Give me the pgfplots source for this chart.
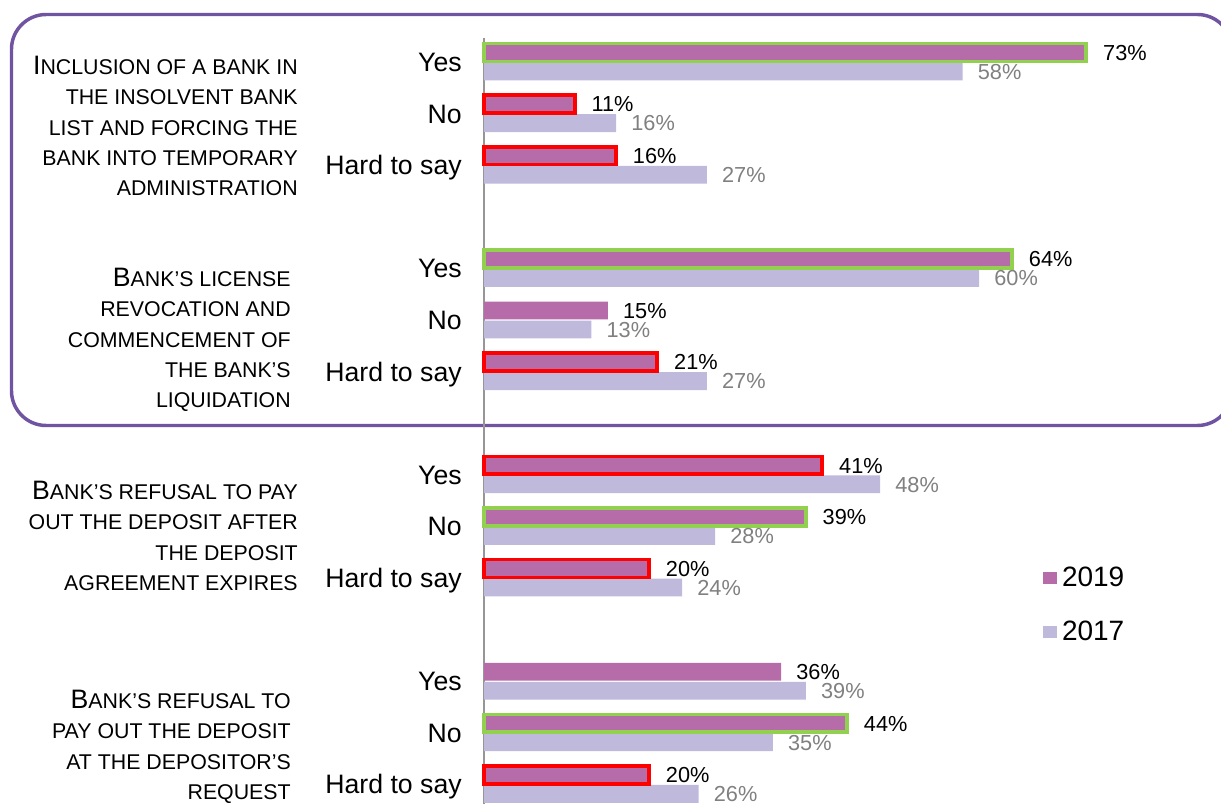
\documentclass[border=0pt]{standalone}
\usepackage{fontspec}
\setmainfont{Liberation Sans}
\usepackage{pgfplots}
\usepackage{pgfplotstable}
\pgfplotsset{compat=1.18}

\definecolor{c19}{RGB}{181,108,168}
\definecolor{c17}{RGB}{191,185,220}
\definecolor{cred}{RGB}{255,0,0}
\definecolor{cgreen}{RGB}{146,208,80}
\definecolor{cframe}{RGB}{112,84,162}
\definecolor{caxis}{RGB}{150,150,150}
\definecolor{clab17}{RGB}{128,128,128}

% 2019 bars with green outline
\pgfplotstableread{
pos val
0 73
4 64
9 39
13 44
}\tgreen
% 2019 bars with red outline
\pgfplotstableread{
pos val
1 11
2 16
6 21
8 41
10 20
14 20
}\tred
% 2019 bars without outline
\pgfplotstableread{
pos val
5 15
12 36
}\tplain
% 2017 bars
\pgfplotstableread{
pos val
0 58
1 16
2 27
4 60
5 13
6 27
8 48
9 28
10 24
12 39
13 35
14 26
}\tseventeen

\newcommand{\bc}[1]{{\fontsize{20}{22.8}\selectfont #1}}

\begin{document}
\begin{tikzpicture}[x=0.75pt,y=0.75pt]
\useasboundingbox (0,0) rectangle (1221,804);
\draw[cframe, line width=2.6pt, rounded corners=26pt] (11.5,789.5) rectangle (1232,378.5);
\begin{axis}[
  at={(363pt,0pt)}, anchor=south west,
  scale only axis, width=552.75pt, height=574.5pt,
  xmin=0, xmax=89.33, ymin=-14.38, ymax=0.465,
  xbar, bar width=13.4pt, bar shift=0pt,
  axis x line=none, axis y line*=left,
  y axis line style={draw=caxis, line width=1.2pt, -},
  xtick=\empty,
  ytick={0,-1,-2,-4,-5,-6,-8,-9,-10,-12,-13,-14},
  yticklabels={Yes,No,Hard to say,Yes,No,Hard to say,Yes,No,Hard to say,Yes,No,Hard to say},
  major tick length=0pt,
  ytick style={draw=none},
  yticklabel style={font=\fontsize{20}{20}\selectfont, anchor=east, inner sep=0pt, xshift=-16.5pt, text height=14.3pt, text depth=0pt},
  clip=false,
  /pgf/number format/assume math mode=true,
  nodes near coords={\pgfmathprintnumber{\pgfplotspointmeta}\%},
  every node near coord/.append style={font=\fontsize{16.3}{16.3}\selectfont, text height=11.6pt, text depth=0pt, xshift=8pt},
  legend style={draw=none, fill=none, at={(axis cs:67.2,-9.68)}, anchor=north west, font=\fontsize{21}{21}\selectfont, row sep=20.25pt},
  legend cell align=left,
  legend image code/.code={\fill[#1] (0pt,-4.5pt) rectangle (10.5pt,4.5pt);},
  legend style={nodes={inner sep=2pt}, column sep=2pt},
]
\addplot[forget plot, fill=c17, draw=none, every node near coord/.append style={text=clab17}]
  table[x=val, y expr=-\thisrow{pos}-0.184] {\tseventeen};
\addplot[forget plot, fill=c19, draw=none, every node near coord/.append style={text=black}]
  table[x=val, y expr=-\thisrow{pos}+0.184] {\tplain};
\addplot[forget plot, fill=c19, draw=cred, line width=2.7pt, every node near coord/.append style={text=black}]
  table[x=val, y expr=-\thisrow{pos}+0.184] {\tred};
\addplot[forget plot, fill=c19, draw=cgreen, line width=2.7pt, every node near coord/.append style={text=black}]
  table[x=val, y expr=-\thisrow{pos}+0.184] {\tgreen};
\addlegendimage{fill=c19, draw=none}
\addlegendentry{2019}
\addlegendimage{fill=c17, draw=none}
\addlegendentry{2017}
\end{axis}
\begin{scope}[every node/.style={anchor=east, align=right, inner sep=0pt, font=\fontsize{16}{22.8}\selectfont}]
\node at (298,678) {\bc{I}NCLUSION OF A BANK IN\\THE INSOLVENT BANK\\LIST AND FORCING THE\\BANK INTO TEMPORARY\\ADMINISTRATION};
\node at (291,464) {\bc{B}ANK’S LICENSE\\REVOCATION AND\\COMMENCEMENT OF\\THE BANK’S\\LIQUIDATION};
\node at (298,268) {\bc{B}ANK’S REFUSAL TO PAY\\OUT THE DEPOSIT AFTER\\THE DEPOSIT\\AGREEMENT EXPIRES};
\node at (291,57) {\bc{B}ANK’S REFUSAL TO\\PAY OUT THE DEPOSIT\\AT THE DEPOSITOR’S\\REQUEST};
\end{scope}
\end{tikzpicture}
\end{document}
